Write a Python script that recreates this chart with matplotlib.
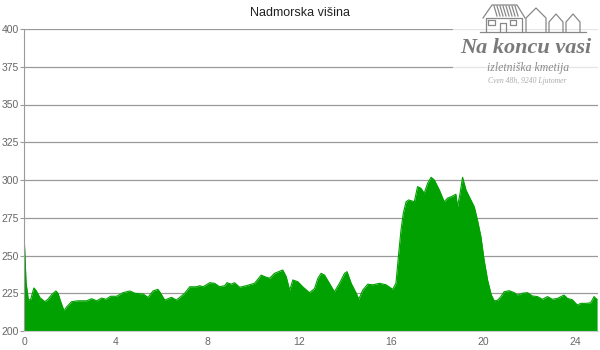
import matplotlib
matplotlib.use("Agg")
import matplotlib.pyplot as plt
from matplotlib.patches import Rectangle
from matplotlib.lines import Line2D

plt.rcParams['font.family'] = ['Liberation Sans', 'DejaVu Sans']

distance_km = [0.00, 0.09, 0.19, 0.29, 0.43, 0.52, 0.70, 0.91, 1.04, 1.20, 1.39, 1.48, 1.60, 1.74, 1.86,
               2.07, 2.35, 2.73, 2.94, 3.16, 3.38, 3.57, 3.77, 4.03, 4.32, 4.61, 4.83, 5.19, 5.40, 5.62,
               5.83, 5.91, 6.13, 6.42, 6.64, 7.00, 7.22, 7.51, 7.65, 7.80, 8.09, 8.30, 8.52, 8.74, 8.84,
               9.03, 9.17, 9.39, 9.68, 10.04, 10.33, 10.55, 10.70, 10.91, 11.27, 11.42, 11.57, 11.71,
               11.93, 12.14, 12.43, 12.65, 12.80, 12.94, 13.09, 13.30, 13.52, 13.74, 13.96, 14.07, 14.25,
               14.47, 14.58, 14.75, 14.97, 15.19, 15.48, 15.77, 16.06, 16.20, 16.32, 16.42, 16.52, 16.64,
               16.75, 17.00, 17.14, 17.29, 17.43, 17.58, 17.73, 17.87, 18.09, 18.30, 18.45, 18.67, 18.81,
               18.88, 18.99, 19.10, 19.25, 19.39, 19.61, 19.75, 19.90, 20.04, 20.19, 20.35, 20.48, 20.62,
               20.77, 20.91, 21.13, 21.35, 21.49, 21.71, 21.93, 22.14, 22.36, 22.58, 22.80, 23.01, 23.23,
               23.52, 23.67, 23.88, 24.10, 24.25, 24.47, 24.68, 24.83, 24.90, 24.96]
elevation_m = [265, 232, 220.5, 221, 228.5, 227, 222, 219.4, 221, 224, 226.5, 225, 219.4, 213.5, 216,
               219.4, 220, 220, 221.4, 220, 221.8, 221, 223, 223, 225.4, 226.5, 225, 224.5, 222.3, 226.5,
               227.6, 226, 220.5, 222.3, 220.5, 225, 229.3, 229.3, 230, 229.3, 232, 231.6, 229.3, 230, 232,
               231, 232, 229, 230, 231.6, 237, 235.6, 235, 238.2, 240.4, 236, 227, 233.8,
               232.6, 229.3, 225.4, 228, 234.9, 238.2, 237, 231.6, 226, 231.6, 238.2, 239.3, 231.6,
               225, 221, 227, 231, 230.6, 231.6, 230.6, 227.6, 231.6, 251.5, 266.9, 278, 285.6,
               286.8, 285.6, 295.6, 294.5, 291.2, 297.8, 301.8, 300, 293.4, 285.6, 288, 289.4, 290.6,
               282.3, 291, 301.8, 293.4, 289, 282.3, 273.5, 262.5, 247, 233.8, 224, 220, 220.3,
               222.7, 226, 226.7, 225.4, 223.8, 225, 225.4, 223.2, 222.8, 221, 222.8, 221, 221.6,
               223.8, 221.6, 220.7, 217.2, 218.3, 218.3, 218.7, 222.8, 221.6, 221]
x_ticks = [0, 4, 8, 12, 16, 20, 24]
y_ticks = [200, 225, 250, 275, 300, 325, 350, 375, 400]
title = "Nadmorska višina"

fig = plt.figure(figsize=(6, 3.5), dpi=100)
ax = fig.add_axes([24/600, 19/350, 574/600, 302/350])

ax.fill_between(distance_km, elevation_m, 200, color='#00a100', linewidth=0, zorder=2)
ax.plot(distance_km, elevation_m, color='#00a100', linewidth=0.8, zorder=2)

ax.set_xlim(0, 25)
ax.set_ylim(200, 400)
ax.set_xticks(x_ticks)
ax.set_yticks(y_ticks)
ax.yaxis.grid(True, color='#9a9a9a', linewidth=0.9, zorder=0)
ax.set_axisbelow(True)
for s in ['top', 'right']:
    ax.spines[s].set_visible(False)
ax.spines['left'].set_color('#9a9a9a')
ax.spines['bottom'].set_color('#cccccc')
ax.tick_params(axis='y', length=3, width=0.8, color='#9a9a9a', labelcolor='#666666', labelsize=7.5, pad=0.5)
ax.tick_params(axis='x', length=0, labelcolor='#666666', labelsize=7.5, pad=4)

fig.text(0.5, 1 - 13/350, title, ha='center', va='center', fontsize=9, color='#222222')

# logo watermark (decoration)
fig.patches.append(Rectangle((453/600, 1 - 90/350), 147/600, 90/350, transform=fig.transFigure,
                             facecolor='white', alpha=0.75, edgecolor='none', zorder=5))
def fl(xs, ys, **kw):
    fig.lines.append(Line2D([v/600 for v in xs], [1 - v/350 for v in ys], transform=fig.transFigure,
                            color='#888888', linewidth=0.9, zorder=6, **kw))
fl([480, 586], [32, 32])
# big house
fl([483, 492, 517, 525], [18, 5, 5, 18])
fl([486, 486, 522, 522], [32, 18, 18, 32])
fl([488, 488, 495, 495, 488], [20, 25, 25, 20, 20])
fl([500, 500, 506, 506], [32, 23, 23, 32])
fl([510, 510, 516, 516, 510], [20, 25, 25, 20, 20])
for hx in range(494, 518, 3):
    fl([hx, hx + 3], [6, 16])
# small houses
fl([526, 526, 536, 546, 546], [32, 18, 8, 18, 32])
fl([549, 549, 556, 563, 563], [32, 22, 14, 22, 32])
fl([566, 566, 573, 580, 580], [32, 22, 14, 22, 32])

fig.text(526/600, 1 - 48/350, "Na koncu vasi", ha='center', va='center', fontsize=16, weight='bold',
         family=['Liberation Serif', 'DejaVu Serif'], style='italic', color='#7a7a7a', zorder=7)
fig.text(528/600, 1 - 68/350, "izletniška kmetija", ha='center', va='center', fontsize=8.5,
         family=['Liberation Serif', 'DejaVu Serif'], style='italic', color='#8a8a8a', zorder=7)
fig.text(527/600, 1 - 81/350, "Cven 48h, 9240 Ljutomer", ha='center', va='center', fontsize=5.5,
         family=['Liberation Serif', 'DejaVu Serif'], style='italic', color='#aaaaaa', zorder=7)

fig.savefig("out.png", dpi=100)
